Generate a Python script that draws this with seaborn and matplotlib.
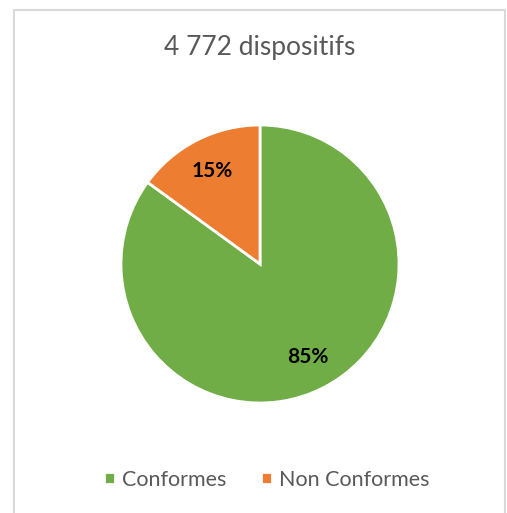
import seaborn as sns
import matplotlib.pyplot as plt
from matplotlib.patches import Rectangle

categories = ['Conformes', 'Non Conformes']
values = [85, 15]
colors = ['#70AD47', '#ED7D31']
title = '4 772 dispositifs'

sns.set_theme(style='white')
plt.rcParams['font.family'] = ['Lato', 'DejaVu Sans']

fig = plt.figure(figsize=(5.07, 5.13), dpi=100)
# light grey chart frame like the spreadsheet export
fig.patches.append(Rectangle((13.5 / 507, -0.01), (505 - 13.5) / 507, 1 - 10 / 513 + 0.01,
                             transform=fig.transFigure, fill=False,
                             edgecolor='#D9D9D9', linewidth=1.5))

ax = fig.add_axes([(260 - 139) / 507, (513 - 264 - 139) / 513, 278 / 507, 278 / 513])
wedges, texts, autotexts = ax.pie(values, colors=colors, startangle=90, counterclock=False,
                                  autopct='%d%%', pctdistance=0.75,
                                  wedgeprops=dict(edgecolor='white', linewidth=2))
for t in autotexts:
    t.set_fontsize(15)
    t.set_fontweight('bold')
    t.set_color('black')
ax.set_xlim(-1, 1)
ax.set_ylim(-1, 1)

fig.text(260 / 507, 1 - 48 / 513, title, ha='center', va='center', fontsize=19, color='#595959')

fig.legend(wedges, categories, loc='center', bbox_to_anchor=(267 / 507, 1 - 480 / 513),
           ncol=2, frameon=False, fontsize=15.5, labelcolor='#595959',
           handlelength=0.5, handleheight=0.5, handletextpad=0.35, columnspacing=1.6)

fig.savefig('out.png', dpi=100)
